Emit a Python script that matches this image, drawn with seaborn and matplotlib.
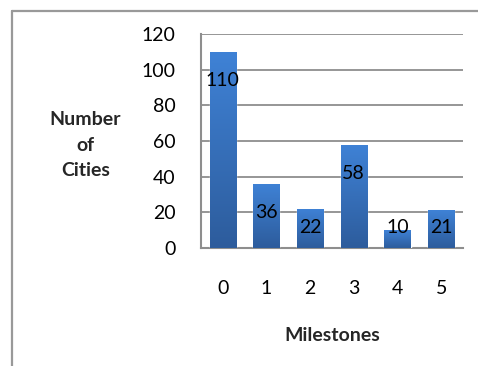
import numpy as np
import pandas as pd
import matplotlib
matplotlib.use("Agg")
import matplotlib.pyplot as plt
from matplotlib.colors import LinearSegmentedColormap
from matplotlib.lines import Line2D
import seaborn as sns

# data
milestones = ["0", "1", "2", "3", "4", "5"]
cities = [110, 36, 22, 58, 10, 21]
yticks = [0, 20, 40, 60, 80, 100, 120]

sns.set_theme(style="white")
plt.rcParams["font.family"] = ["Lato", "DejaVu Sans"]

GRID = "#8e8e8e"
FS = 14
df = pd.DataFrame({"milestone": milestones, "cities": cities})

fig = plt.figure(figsize=(4.78, 3.66), dpi=100)
ax = fig.add_axes([0.42, 0.3232, 0.5486, 0.5831])

sns.barplot(data=df, x="milestone", y="cities", color="#3a78c8", width=0.6,
            saturation=1, ax=ax, zorder=3)

# vertical gradient on each bar (lighter top, darker bottom)
cmap = LinearSegmentedColormap.from_list("bar", ["#2d5c9c", "#3f82d6"])
grad = np.linspace(0, 1, 256).reshape(-1, 1)
for p in ax.patches:
    x0, w, h = p.get_x(), p.get_width(), p.get_height()
    im = ax.imshow(grad, extent=[x0, x0 + w, 0, h], origin="lower", aspect="auto",
                   cmap=cmap, zorder=3.5)
    im.set_clip_path(p)

ax.set_xlim(-0.5, 5.5)
ax.set_ylim(0, 120)
ax.set_yticks(yticks)
ax.yaxis.grid(True, color=GRID, linewidth=1.3, zorder=0)
ax.set_axisbelow(True)
for s in ["top", "right"]:
    ax.spines[s].set_visible(False)
for s in ["left", "bottom"]:
    ax.spines[s].set_color(GRID)
    ax.spines[s].set_linewidth(1.5)
ax.tick_params(axis="y", length=0, pad=18, labelsize=FS, colors="black")
ax.tick_params(axis="x", length=0, pad=23, labelsize=FS, colors="black")

# value labels just inside the bar tops
for i, v in enumerate(cities):
    ax.text(i, max(v - 16, 11.5), str(v), ha="center", va="center",
            fontsize=FS, color="black", zorder=5)

ax.set_xlabel("Milestones", fontsize=FS, fontweight="bold")
ax.xaxis.set_label_coords(0.5, -0.37)
ax.set_ylabel("Number\nof\nCities", fontsize=FS, fontweight="bold",
              rotation=0, ha="center", va="center", linespacing=1.6)
ax.yaxis.set_label_coords(-0.44, 0.48)

# outer chart border (only top and left are visible in the crop)
fig.add_artist(Line2D([11.5 / 478, 1], [1 - 10.5 / 366] * 2, color="#999999", lw=1.6,
                      transform=fig.transFigure))
fig.add_artist(Line2D([11.5 / 478] * 2, [0, 1 - 10.5 / 366], color="#999999", lw=1.6,
                      transform=fig.transFigure))

fig.savefig("out.png", dpi=100)
